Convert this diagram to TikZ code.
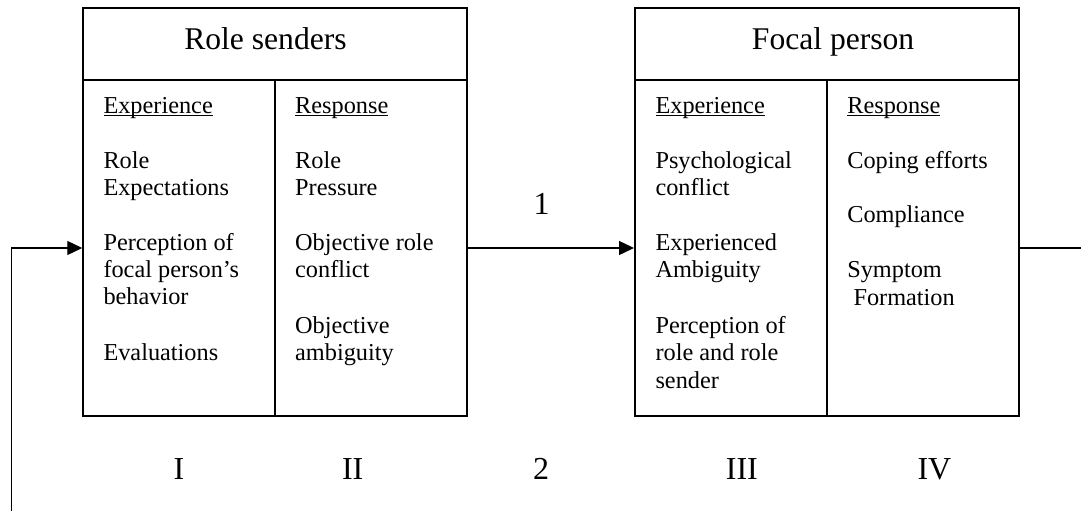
\documentclass[tikz,border=0pt]{standalone}
\usepackage{fontspec}
\setmainfont{Liberation Serif}
\usetikzlibrary{arrows.meta}
\newcommand\ulx[1]{\setbox0\hbox{#1}\rlap{\rule[-3pt]{\wd0}{1.1pt}}#1}
\begin{document}
\begin{tikzpicture}[x=1pt,y=-1pt,
  box/.style={draw,line width=1.5pt,inner sep=0pt,minimum width=384pt,minimum height=408pt},
  body/.style={anchor=base west,align=left,inner sep=0pt,font=\fontsize{24.3}{27.2}\selectfont},
  head/.style={anchor=base,inner sep=0pt,font=\fontsize{31.6}{36}\selectfont},
  num/.style={anchor=base,inner sep=0pt,font=\fontsize{32}{36}\selectfont},
  conn/.style={line width=1.4pt},
  arr/.style={conn,-{Triangle[length=15pt,width=14pt]}}]
\useasboundingbox (0,0) rectangle (1081,511);
% boxes
\node[box] (rs) at (275,212) {};
\node[box] (fp) at (826.75,212) {};
\coordinate (hl) at (0,80);
\coordinate (ay) at (0,248);
\draw[line width=1.5pt] (rs.west |- hl) -- (rs.east |- hl);
\draw[line width=1.5pt] (rs.center |- hl) -- (rs.south);
\draw[line width=1.5pt] (fp.west |- hl) -- (fp.east |- hl);
\draw[line width=1.5pt] (fp.center |- hl) -- (fp.south);
% headers
\node[head] (rsh) at (265.5,50) {Role senders};
\node[head] (fph) at (833.1,50) {Focal person};
% role senders: experience (y = baseline of last line)
\node[body] (rse) at (103.3,113.3) {\ulx{Experience}};
\node[body] (rse1) at (103.3,195.3) {Role\\Expectations};
\node[body] (rse2) at (103.3,304.7) {Perception of\\focal person’s\\behavior};
\node[body] (rse3) at (103.3,360.7) {Evaluations};
% role senders: response
\node[body] (rsr) at (295,113.3) {\ulx{Response}};
\node[body] (rsr1) at (295,195.3) {Role\\Pressure};
\node[body] (rsr2) at (295,277.5) {Objective role\\conflict};
\node[body] (rsr3) at (295,360.7) {Objective\\ambiguity};
% focal person: experience
\node[body] (fpe) at (655.3,113.3) {\ulx{Experience}};
\node[body] (fpe1) at (655.3,195.3) {Psychological\\conflict};
\node[body] (fpe2) at (655.3,277.7) {Experienced\\Ambiguity};
\node[body] (fpe3) at (655.3,388) {Perception of\\role and role\\sender};
% focal person: response
\node[body] (fpr) at (847.1,113.3) {\ulx{Response}};
\node[body] (fpr1) at (847.1,168.3) {Coping efforts};
\node[body] (fpr2) at (847.1,222.7) {Compliance};
\node[body] (fpr3) at (847.1,277.7) {Symptom};
\node[body] (fpr4) at (853.3,305) {Formation};
% numbers
\node[num] (one) at (541.7,214) {1};
\node[num] (two) at (541,479) {2};
\node[num] (n1) at (179,479) {I};
\node[num] (n2) at (352.7,479) {II};
\node[num] (n3) at (741.9,479) {III};
\node[num] (n4) at (934.4,479) {IV};
% connectors
\coordinate (fb) at (11.4,511);
\coordinate (re) at (1081,248);
\draw[arr] (rs.east |- ay) -- (fp.west |- ay);
\draw[arr] (fb) |- (rs.west |- ay);
\draw[conn] (fp.east |- ay) -- (re);
\end{tikzpicture}
\end{document}
